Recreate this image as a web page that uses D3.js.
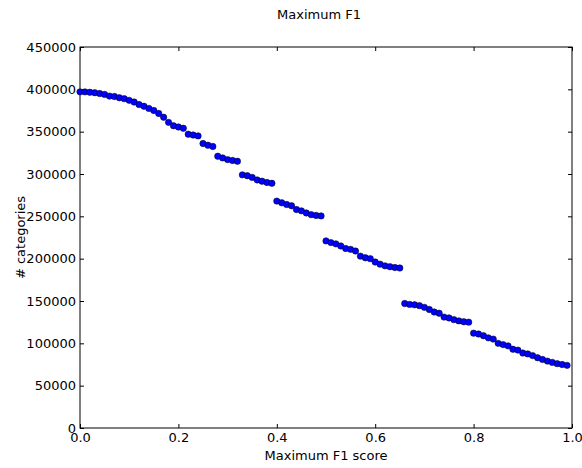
<!DOCTYPE html>
<html>
<head>
<meta charset="utf-8">
<script src="https://cdn.jsdelivr.net/npm/d3@7"></script>
<style>
  body { margin: 0; background: #fff; }
  svg text { font-family: "DejaVu Sans", sans-serif; }
</style>
</head>
<body>
<div id="chart"></div>
<script>
// F1 thresholds 0.00 .. 0.99
const thresholds = d3.range(100).map(i => i / 100)
const categoryCounts = [
  397000, 397000, 396500, 396000, 395000, 394000, 392000, 391500, 390000, 389000,
  387000, 385000, 382000, 380000, 377500, 375000, 371500, 367000, 361000, 357000,
  355500, 354000, 347000, 346000, 345000, 336000, 334000, 332500, 321000, 319000,
  317000, 316000, 315000, 299000, 298000, 296000, 293000, 291500, 290000, 289000,
  268000, 266000, 264000, 262500, 258000, 256500, 254000, 252000, 251000, 250500,
  221000, 219000, 217500, 215000, 212000, 211000, 209000, 203000, 201000, 200000,
  196000, 193500, 191500, 190500, 189500, 189000, 147000, 146000, 145500, 144500,
  142500, 140000, 137000, 135500, 131000, 130000, 128000, 126500, 125500, 125000,
  112000, 111000, 109000, 106500, 105000, 100000, 98500, 97000, 93000, 92000,
  88500, 87500, 85500, 83000, 81000, 79000, 77500, 76000, 75000, 74000
]
const xTicks = [0, 0.2, 0.4, 0.6, 0.8, 1.0]
const yTicks = d3.range(0, 450001, 50000)

const width = 582, height = 468
const margin = { top: 47, right: 10, bottom: 40, left: 80 }
const innerW = width - margin.left - margin.right
const innerH = height - margin.top - margin.bottom

let svg = d3.select("#chart")
  .append("svg")
  .attr('width', width)
  .attr('height', height)

let g = svg.append("g")
  .attr('transform', `translate(${margin.left},${margin.top})`)

let x = d3.scaleLinear().domain([0, 1]).range([0, innerW])
let y = d3.scaleLinear().domain([0, 450000]).range([innerH, 0])

// inward ticks on all four sides, matplotlib classic style
const tickStyle = sel => {
  sel.select(".domain").remove()
  sel.selectAll(".tick line").attr('stroke', '#000')
  sel.selectAll(".tick text").attr('font-size', 13).attr('fill', '#000')
}

g.append("g")
  .attr('transform', `translate(0,${innerH})`)
  .call(d3.axisBottom(x).tickValues(xTicks).tickFormat(d3.format(".1f")).tickSizeInner(-4).tickPadding(5))
  .call(tickStyle)

g.append("g")
  .call(d3.axisTop(x).tickValues(xTicks).tickFormat("").tickSizeInner(-4))
  .call(tickStyle)

g.append("g")
  .call(d3.axisLeft(y).tickValues(yTicks).tickFormat(d3.format("d")).tickSizeInner(-4).tickPadding(4))
  .call(tickStyle)

g.append("g")
  .attr('transform', `translate(${innerW},0)`)
  .call(d3.axisRight(y).tickValues(yTicks).tickFormat("").tickSizeInner(-4))
  .call(tickStyle)

g.append("rect")
  .attr('width', innerW)
  .attr('height', innerH)
  .attr('fill', 'none')
  .attr('stroke', '#000')
  .attr('stroke-width', 1)

g.selectAll("circle")
  .data(thresholds)
  .join("circle")
  .attr('cx', d => x(d))
  .attr('cy', (d, i) => y(categoryCounts[i]))
  .attr('r', 3.2)
  .attr('fill', '#0000ff')
  .attr('stroke', '#000')
  .attr('stroke-width', 0.5)

svg.append("text")
  .attr('x', 319)
  .attr('y', 19)
  .attr('text-anchor', 'middle')
  .attr('font-size', 13)
  .text("Maximum F1")

svg.append("text")
  .attr('x', margin.left + innerW / 2)
  .attr('y', 460)
  .attr('text-anchor', 'middle')
  .attr('font-size', 13)
  .text("Maximum F1 score")

svg.append("text")
  .attr('transform', `translate(25,${margin.top + innerH / 2}) rotate(-90)`)
  .attr('text-anchor', 'middle')
  .attr('font-size', 13)
  .text("# categories")
</script>
</body>
</html>
